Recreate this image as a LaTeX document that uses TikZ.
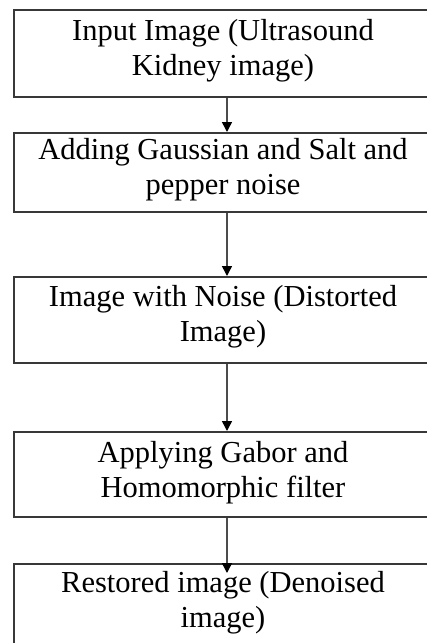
\documentclass[tikz,border=0pt]{standalone}
\usepackage{fontspec}
\setmainfont{Liberation Serif}
\usetikzlibrary{arrows.meta}

\begin{document}
\begin{tikzpicture}[x=1pt,y=1pt,
  stage/.style={draw=black!78, line width=2pt, fill=white,
    minimum width=418pt, inner sep=0pt},
  caption/.style={align=center, inner sep=0pt, text=black,
    font=\fontsize{30.5}{35}\selectfont},
  flow/.style={draw=black!70, line width=1.5pt,
    -{Triangle[length=10pt,width=10pt,color=black]}}]
  \useasboundingbox (0,0) rectangle (427,-643);
  \clip (0,0) rectangle (427,-643);

  % processing stages, top to bottom; text sits on a label at the centre
  \node[stage, minimum height=87pt,
    label={[caption,yshift=3pt]center:Input Image (Ultrasound\\Kidney image)}]
    (b1) at (223,-53.5) {};
  \node[stage, minimum height=79pt,
    label={[caption,yshift=3pt]center:Adding Gaussian and Salt and\\pepper noise}]
    (b2) at (223,-172.5) {};
  \node[stage, minimum height=86pt,
    label={[caption,yshift=3.5pt]center:Image with Noise (Distorted\\Image)}]
    (b3) at (223,-320) {};
  \node[stage, minimum height=85pt,
    label={[caption,yshift=2pt]center:Applying Gabor and\\Homomorphic filter}]
    (b4) at (223,-474.5) {};
  \node[stage, minimum height=88pt,
    label={[caption,yshift=5.5pt]center:Restored image (Denoised\\image)}]
    (b5) at (223,-608) {};

  % connectors between stages
  \draw[flow] ([xshift=4pt]b1.south) -- ([xshift=4pt]b2.north);
  \draw[flow] ([xshift=4pt]b2.south) -- ([xshift=4pt]b3.north);
  \draw[flow] ([xshift=4pt]b3.south) -- ([xshift=4pt]b4.north);
  \draw[flow] ([xshift=4pt]b4.south) -- ([xshift=4pt,yshift=-10pt]b5.north);
\end{tikzpicture}
\end{document}
